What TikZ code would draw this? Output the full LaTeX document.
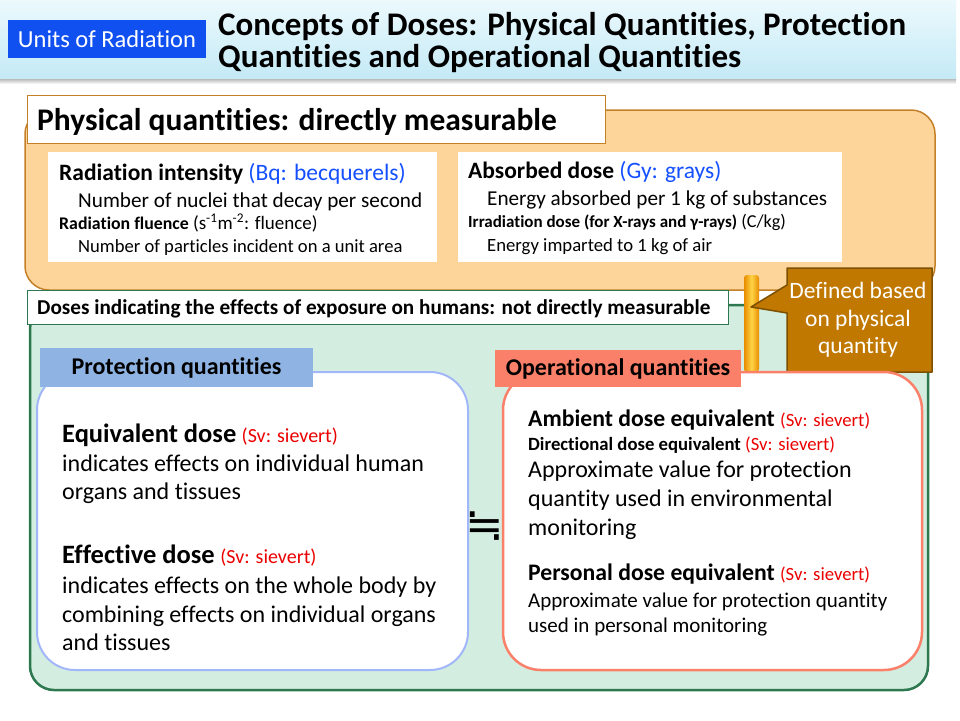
\documentclass[tikz,border=0pt]{standalone}
\usepackage{fontspec}
\setmainfont[Ligatures={NoCommon}]{Carlito}
\newfontfamily\symfont{DejaVu Sans}
\usetikzlibrary{positioning}

\definecolor{headtop}{RGB}{236,249,253}
\definecolor{headbot}{RGB}{196,234,246}
\definecolor{headblue}{RGB}{16,80,240}
\definecolor{physfill}{RGB}{253,213,155}
\definecolor{physline}{RGB}{196,128,40}
\definecolor{dosefill}{RGB}{211,238,224}
\definecolor{doseline}{RGB}{46,120,80}
\definecolor{prottab}{RGB}{143,180,227}
\definecolor{protline}{RGB}{162,182,250}
\definecolor{opertab}{RGB}{250,128,105}
\definecolor{calloutfill}{RGB}{192,120,0}
\definecolor{calloutline}{RGB}{125,80,0}
\definecolor{barside}{RGB}{232,140,0}
\definecolor{barmid}{RGB}{255,212,70}
\definecolor{unitblue}{RGB}{20,80,255}
\definecolor{unitred}{RGB}{235,0,0}

\newcommand{\fsz}[1]{\fontsize{#1}{#1}\selectfont}
\newcommand{\sv}[1]{{\fsz{#1}\textcolor{unitred}{(Sv: sievert)}}}

\tikzset{
  txt/.style={anchor=base west, inner sep=0pt},
  tabbox/.style={inner sep=0pt, font=\bfseries\fsz{24}},
}

\begin{document}
\begin{tikzpicture}[x=1pt, y=-1pt]
      \useasboundingbox (0,0) rectangle (960,720);
      \fill[white] (0,0) rectangle (960,720);

      % header
      \shade[top color=gray!75, bottom color=white] (0,77) rectangle (956,84);
      \shade[top color=headtop, bottom color=headbot] (0,0) rectangle (956,78);
      \node[fill=headblue, text=white, minimum width=198, minimum height=38, inner sep=0pt, font=\fsz{24.5}] (unitsbox) at (107,39) {Units of Radiation};
      \node[txt, font=\bfseries\fsz{33}] (titleA) at (218,35) {Concepts of Doses: Physical Quantities, Protection};
      \node[txt, font=\bfseries\fsz{33}] (titleB) at (218,67) {Quantities and Operational Quantities};

      % physical quantities
      \draw[physline, fill=physfill, line width=1.5pt, rounded corners=24] (25,110) rectangle (935,290);
      \draw[physline, fill=white, line width=0.8pt] (27,95) rectangle (605,143);
      \node[txt, font=\bfseries\fsz{31.5}] (physhead) at (37,130) {Physical quantities: directly measurable};

      \fill[white] (48,152) rectangle (437,262);
      \node[txt, font=\fsz{23.5}] (radint) at (59,180) {\textbf{Radiation intensity} \textcolor{unitblue}{(Bq: becquerels)}};
      \node[txt, font=\fsz{21.2}] (radintdef) at (78,207) {Number of nuclei that decay per second};
      \node[txt, font=\fsz{19}] (radflu) at (59,229) {\textbf{\fsz{17.8}Radiation fluence} (s\textsuperscript{-1}m\textsuperscript{-2}: fluence)};
      \node[txt, font=\fsz{18.6}] (radfludef) at (78,252) {Number of particles incident on a unit area};

      \fill[white] (458,152) rectangle (842,262);
      \node[txt, font=\fsz{23.5}] (absdose) at (468,178) {\textbf{Absorbed dose} \textcolor{unitblue}{(Gy: grays)}};
      \node[txt, font=\fsz{21.2}] (absdosedef) at (487,205) {Energy absorbed per 1 kg of substances};
      \node[txt, font=\fsz{18.2}] (irrdose) at (468,227) {\textbf{\fsz{17}Irradiation dose (for X-rays and γ-rays)} (C/kg)};
      \node[txt, font=\fsz{18.7}] (irrdosedef) at (487,251) {Energy imparted to 1 kg of air};

      % doses on humans
      \draw[doseline, fill=dosefill, line width=2.5pt, rounded corners=24] (30,305) rectangle (928,690);
      \draw[doseline, fill=white, line width=0.8pt] (27,290) rectangle (728,324);
      \node[txt, font=\bfseries\fsz{21.2}] (dosehead) at (37,314) {Doses indicating the effects of exposure on humans: not directly measurable};

      % defined based on physical quantity
      \shade[left color=barside, right color=barside, middle color=barmid, rounded corners=3] (744,275) rectangle (759,372);
      \draw[calloutline, fill=calloutfill, line width=1.5pt, line join=round]
        (787,268) -- (932,268) -- (932,372) -- (787,372) -- (787,313) -- (751,307) -- (787,285) -- cycle;
      \node[text=white, align=center, font=\fsz{23.5}] (defined) at (858,320) {Defined based\\[4pt]on physical\\[4pt]quantity};

      % protection quantities
      \draw[protline, fill=white, line width=2pt, rounded corners=38] (37,372) rectangle (468,670);
      \node[tabbox, fill=prottab, minimum width=273, minimum height=39] (prothead) at (176.5,367.5) {Protection quantities};
      \node[txt, font=\fsz{24}] (equiv) at (62,442) {\textbf{\fsz{26.5}Equivalent dose} \sv{20}};
      \node[txt, font=\fsz{24}] (equivA) at (62,471) {indicates effects on individual human};
      \node[txt, font=\fsz{24}] (equivB) at (62,499) {organs and tissues};
      \node[txt, font=\fsz{24}] (effect) at (62,563) {\textbf{\fsz{26.5}Effective dose} \sv{20}};
      \node[txt, font=\fsz{24}] (effectA) at (62,593) {indicates effects on the whole body by};
      \node[txt, font=\fsz{24}] (effectB) at (62,622) {combining effects on individual organs};
      \node[txt, font=\fsz{24}] (effectC) at (62,650) {and tissues};

      % approximately equal
      \node[inner sep=0pt, font=\symfont\fsz{46}] (approx) at (485,526) {≒};

      % operational quantities
      \draw[opertab, fill=white, line width=2.5pt, rounded corners=38] (503,372) rectangle (922,670);
      \node[tabbox, fill=opertab, minimum width=246, minimum height=37] (operhead) at (618,368.5) {Operational quantities};
      \node[txt, font=\fsz{23.7}] (ambient) at (528,426) {\textbf{Ambient dose equivalent} \sv{18.7}};
      \node[txt, font=\fsz{18.7}] (direct) at (528,450) {\textbf{Directional dose equivalent} \sv{18.7}};
      \node[txt, font=\fsz{24}] (ambdefA) at (528,477) {Approximate value for protection};
      \node[txt, font=\fsz{24}] (ambdefB) at (528,506) {quantity used in environmental};
      \node[txt, font=\fsz{24}] (ambdefC) at (528,535) {monitoring};
      \node[txt, font=\fsz{23.7}] (personal) at (528,580) {\textbf{Personal dose equivalent} \sv{18.7}};
      \node[txt, font=\fsz{21}] (perdefA) at (528,607) {Approximate value for protection quantity};
      \node[txt, font=\fsz{21}] (perdefB) at (528,632) {used in personal monitoring};
\end{tikzpicture}
\end{document}
